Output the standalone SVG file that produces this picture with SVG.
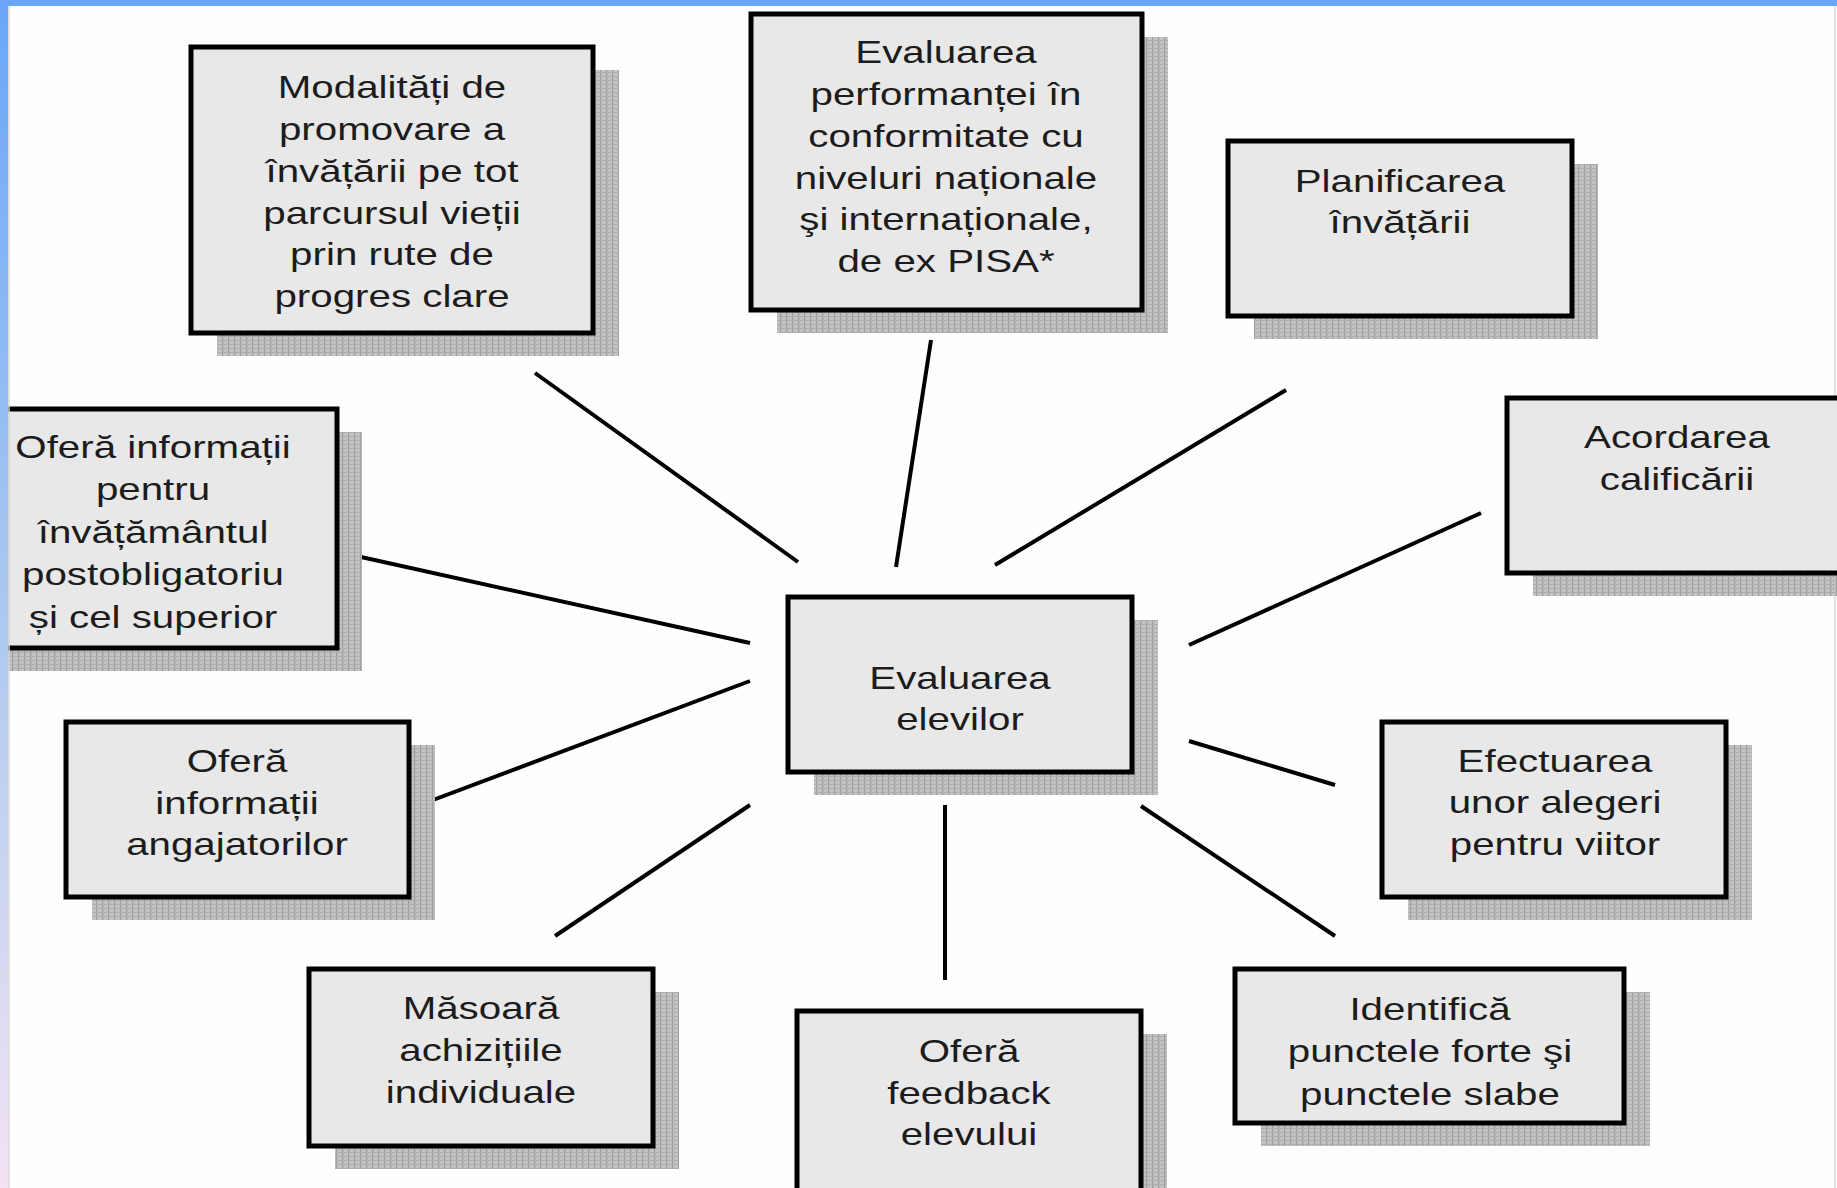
<svg xmlns="http://www.w3.org/2000/svg" width="1837" height="1188" viewBox="0 0 1837 1188">
  <defs>
    <linearGradient id="sideBar" x1="0" y1="0" x2="0" y2="1">
      <stop offset="0" stop-color="#6aa6f8"/>
      <stop offset="0.5" stop-color="#a9c8ef"/>
      <stop offset="1" stop-color="#f3e3f3"/>
    </linearGradient>
    <!-- fine mesh used for the drop shadows -->
    <pattern id="mesh" width="6" height="4" patternUnits="userSpaceOnUse">
      <rect width="6" height="4" fill="#c2c2c2"/>
      <rect x="0" y="0" width="1.2" height="4" fill="#9c9c9c"/>
      <rect x="0" y="0" width="6" height="1" fill="#adadad"/>
    </pattern>
    <style>
      .shadow { fill: url(#mesh); }
      .box { fill: #e8e8e8; stroke: #000; stroke-width: 5; }
      .lbl { font-family: "Liberation Sans", Arial, sans-serif; font-size: 31px; fill: #1c1c1c; text-anchor: middle; }
      .conn line { stroke: #000; stroke-width: 4; stroke-linecap: butt; }
    </style>
  </defs>

  <!-- page -->
  <rect width="1837" height="1188" fill="#fefefe"/>
  <line x1="1835" y1="0" x2="1835" y2="1188" stroke="#e2e2e2" stroke-width="2"/>

  <!-- connectors -->
  <g id="connectors" class="conn">
    <line x1="535" y1="373" x2="798" y2="562"/>
    <line x1="931" y1="340" x2="896" y2="567"/>
    <line x1="1286" y1="390" x2="995" y2="565"/>
    <line x1="1481" y1="513" x2="1189" y2="645"/>
    <line x1="361" y1="557" x2="750" y2="643"/>
    <line x1="409" y1="809" x2="750" y2="681"/>
    <line x1="555" y1="936" x2="750" y2="805"/>
    <line x1="945" y1="805" x2="945" y2="980"/>
    <line x1="1141" y1="806" x2="1335" y2="936"/>
    <line x1="1189" y1="741" x2="1335" y2="785"/>
  </g>

  <!-- label lines are written without whitespace between tspans so centring is exact -->
  <g id="node-promovare">
    <rect class="shadow" x="217" y="70" width="402" height="286"/>
    <rect class="box" x="191" y="47" width="402" height="286"/>
    <text class="lbl" transform="translate(392 0) scale(1.3 1)"><tspan x="0" y="98">Modalități de</tspan><tspan x="0" y="140">promovare a</tspan><tspan x="0" y="182">învățării pe tot</tspan><tspan x="0" y="224">parcursul vieții</tspan><tspan x="0" y="265">prin rute de</tspan><tspan x="0" y="307">progres clare</tspan></text>
  </g>

  <g id="node-performanta">
    <rect class="shadow" x="777" y="37" width="391" height="296"/>
    <rect class="box" x="751" y="14" width="391" height="296"/>
    <text class="lbl" transform="translate(946 0) scale(1.3 1)"><tspan x="0" y="63">Evaluarea</tspan><tspan x="0" y="105">performanței în</tspan><tspan x="0" y="147">conformitate cu</tspan><tspan x="0" y="189">niveluri naționale</tspan><tspan x="0" y="230">şi internaționale,</tspan><tspan x="0" y="272">de ex PISA*</tspan></text>
  </g>

  <g id="node-planificarea">
    <rect class="shadow" x="1254" y="164" width="344" height="175"/>
    <rect class="box" x="1228" y="141" width="344" height="175"/>
    <text class="lbl" transform="translate(1400 0) scale(1.3 1)"><tspan x="0" y="192">Planificarea</tspan><tspan x="0" y="233">învățării</tspan></text>
  </g>

  <g id="node-calificare">
    <rect class="shadow" x="1533" y="421" width="340" height="175"/>
    <rect class="box" x="1507" y="398" width="340" height="175"/>
    <text class="lbl" transform="translate(1677 0) scale(1.3 1)"><tspan x="0" y="448">Acordarea</tspan><tspan x="0" y="490">calificării</tspan></text>
  </g>

  <g id="node-postobligatoriu">
    <rect class="shadow" x="-10" y="432" width="372" height="239"/>
    <rect class="box" x="-36" y="409" width="373" height="239"/>
    <text class="lbl" transform="translate(153 0) scale(1.3 1)"><tspan x="0" y="458">Oferă informații</tspan><tspan x="0" y="500">pentru</tspan><tspan x="0" y="543">învățământul</tspan><tspan x="0" y="585">postobligatoriu</tspan><tspan x="0" y="628">și cel superior</tspan></text>
  </g>

  <g id="node-angajatori">
    <rect class="shadow" x="92" y="745" width="343" height="175"/>
    <rect class="box" x="66" y="722" width="343" height="175"/>
    <text class="lbl" transform="translate(237 0) scale(1.3 1)"><tspan x="0" y="772">Oferă</tspan><tspan x="0" y="814">informații</tspan><tspan x="0" y="855">angajatorilor</tspan></text>
  </g>

  <g id="node-evaluarea-elevilor">
    <rect class="shadow" x="814" y="620" width="344" height="175"/>
    <rect class="box" x="788" y="597" width="344" height="175"/>
    <text class="lbl" transform="translate(960 0) scale(1.3 1)"><tspan x="0" y="689">Evaluarea</tspan><tspan x="0" y="730">elevilor</tspan></text>
  </g>

  <g id="node-alegeri">
    <rect class="shadow" x="1408" y="745" width="344" height="175"/>
    <rect class="box" x="1382" y="722" width="344" height="175"/>
    <text class="lbl" transform="translate(1555 0) scale(1.3 1)"><tspan x="0" y="772">Efectuarea</tspan><tspan x="0" y="813">unor alegeri</tspan><tspan x="0" y="855">pentru viitor</tspan></text>
  </g>

  <g id="node-achizitii">
    <rect class="shadow" x="335" y="992" width="344" height="177"/>
    <rect class="box" x="309" y="969" width="344" height="177"/>
    <text class="lbl" transform="translate(481 0) scale(1.3 1)"><tspan x="0" y="1019">Măsoară</tspan><tspan x="0" y="1061">achizițiile</tspan><tspan x="0" y="1103">individuale</tspan></text>
  </g>

  <g id="node-feedback">
    <rect class="shadow" x="823" y="1034" width="344" height="190"/>
    <rect class="box" x="797" y="1011" width="344" height="200"/>
    <text class="lbl" transform="translate(969 0) scale(1.3 1)"><tspan x="0" y="1062">Oferă</tspan><tspan x="0" y="1104">feedback</tspan><tspan x="0" y="1145">elevului</tspan></text>
  </g>

  <g id="node-puncte">
    <rect class="shadow" x="1261" y="992" width="389" height="154"/>
    <rect class="box" x="1235" y="969" width="389" height="154"/>
    <text class="lbl" transform="translate(1430 0) scale(1.3 1)"><tspan x="0" y="1020">Identifică</tspan><tspan x="0" y="1062">punctele forte şi</tspan><tspan x="0" y="1105">punctele slabe</tspan></text>
  </g>

  <!-- window frame -->
  <rect x="0" y="0" width="1837" height="6" fill="#6aa6f8"/>
  <rect x="0" y="0" width="8" height="1188" fill="url(#sideBar)"/>
  <line x1="9" y1="6" x2="9" y2="1188" stroke="#d4d4d4" stroke-width="1.5"/>
</svg>
